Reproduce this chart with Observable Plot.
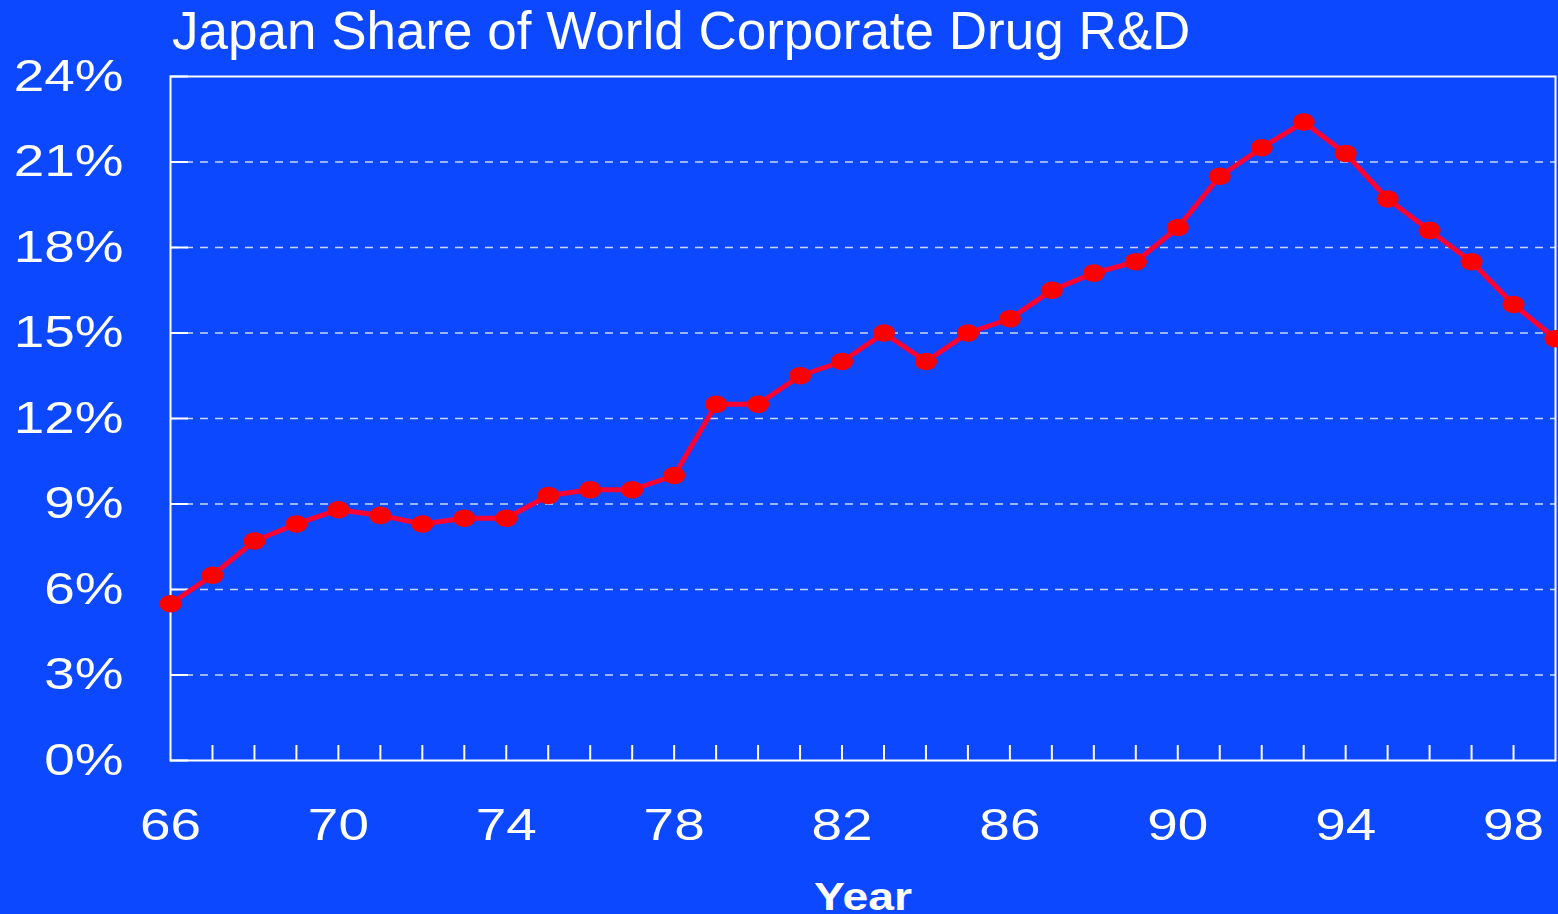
<!DOCTYPE html>
<html>
<head>
<meta charset="utf-8">
<script src="https://cdn.jsdelivr.net/npm/d3@7"></script>
<script src="https://cdn.jsdelivr.net/npm/@observablehq/plot@0.6"></script>
<style>
html, body { margin: 0; padding: 0; background: #0c48ff; width: 1558px; height: 914px; overflow: hidden; position: relative; }
#title { position: absolute; left: 172px; top: 0; height: 62px; line-height: 62px; color: #fff; font-size: 53px; font-family: "Liberation Sans", Arial, sans-serif; white-space: nowrap; z-index: 1; }
#chart svg { display: block; }
</style>
</head>
<body>
<div id="title"></div>
<div id="chart"></div>
<script>
const titleText = "Japan Share of World Corporate Drug R&D";
const xLabel = "Year";
const years = [66, 67, 68, 69, 70, 71, 72, 73, 74, 75, 76, 77, 78, 79, 80, 81, 82,
               83, 84, 85, 86, 87, 88, 89, 90, 91, 92, 93, 94, 95, 96, 97, 98, 99];
const share = [5.5, 6.5, 7.7, 8.3, 8.8, 8.6, 8.3, 8.5, 8.5, 9.3, 9.5, 9.5, 10.0, 12.5, 12.5, 13.5, 14.0,
               15.0, 14.0, 15.0, 15.5, 16.5, 17.1, 17.5, 18.7, 20.5, 21.5, 22.4, 21.3, 19.7, 18.6, 17.5, 16.0, 14.8];
const yTicks = [0, 3, 6, 9, 12, 15, 18, 21, 24];
const gridTicks = [3, 6, 9, 12, 15, 18, 21];
const xLabelTicks = [66, 70, 74, 78, 82, 86, 90, 94, 98];
const xMinorTicks = [67, 68, 69, 70, 71, 72, 73, 74, 75, 76, 77, 78, 79, 80, 81, 82,
                     83, 84, 85, 86, 87, 88, 89, 90, 91, 92, 93, 94, 95, 96, 97, 98];

document.getElementById("title").textContent = titleText;

const data = years.map((y, i) => ({year: y, share: share[i]}));

const ellipse = {
  draw(ctx) {
    const rx = 11, ry = 8.8, k = 0.5523;
    ctx.moveTo(rx, 0);
    ctx.bezierCurveTo(rx, ry * k, rx * k, ry, 0, ry);
    ctx.bezierCurveTo(-rx * k, ry, -rx, ry * k, -rx, 0);
    ctx.bezierCurveTo(-rx, -ry * k, -rx * k, -ry, 0, -ry);
    ctx.bezierCurveTo(rx * k, -ry, rx, -ry * k, rx, 0);
    ctx.closePath();
  }
};

const plot = Plot.plot({
  width: 1558,
  height: 914,
  marginTop: 76,
  marginBottom: 154,
  marginLeft: 170,
  marginRight: 3,
  style: {background: "transparent", color: "white", fontFamily: "'Liberation Sans', Arial, sans-serif"},
  x: {domain: [66, 99]},
  y: {domain: [0, 24]},
  marks: [
    Plot.gridY(gridTicks, {stroke: "#dfe6ff", strokeOpacity: 0.9, strokeWidth: 1.6, strokeDasharray: "8,7"}),
    Plot.frame({stroke: "white", strokeWidth: 2}),
    Plot.axisY(yTicks, {tickSize: -18, tickPadding: 65, strokeWidth: 2, tickFormat: d => d + "%", fontSize: 45, label: null}),
    Plot.axisX(xMinorTicks, {tickSize: -15, strokeWidth: 2, tickFormat: () => "", label: null}),
    Plot.axisX(xLabelTicks, {tickSize: 0, tickPadding: 48, tickFormat: d => String(d), fontSize: 45, label: null}),
    Plot.text([xLabel], {frameAnchor: "bottom", lineAnchor: "middle", dy: 137, fontSize: 38, fontWeight: "bold", fill: "white"}),
    Plot.line(data, {x: "year", y: "share", stroke: "#ff0033", strokeWidth: 5}),
    Plot.dot(data, {x: "year", y: "share", symbol: ellipse, r: 10, fill: "#ff0000", stroke: "none"})
  ]
});

function stretch(t, s) {
  const tr = t.getAttribute("transform");
  if (tr) {
    t.setAttribute("transform", tr + ` scale(${s},1)`);
  } else {
    const x = +t.getAttribute("x") || 0, y = +t.getAttribute("y") || 0;
    t.setAttribute("transform", `translate(${x},${y}) scale(${s},1) translate(${-x},${-y})`);
  }
}
plot.querySelectorAll('g[aria-label="y-axis tick label"] text, g[aria-label="x-axis tick label"] text, g[aria-label="text"] text')
  .forEach(t => stretch(t, 1.22));

document.getElementById("chart").appendChild(plot);
</script>
</body>
</html>
